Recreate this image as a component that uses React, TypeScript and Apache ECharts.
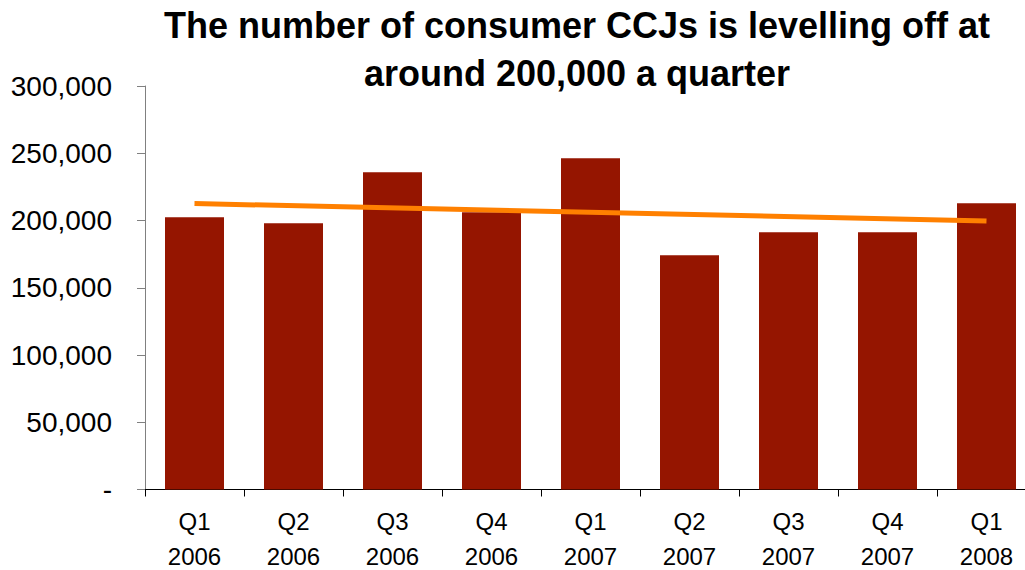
import React, { useEffect, useRef } from "react";
import * as echarts from "echarts";

const categories = ["Q1\n2006", "Q2\n2006", "Q3\n2006", "Q4\n2006", "Q1\n2007", "Q2\n2007", "Q3\n2007", "Q4\n2007", "Q1\n2008"];
const ccjs = [202400, 197950, 235850, 206100, 246250, 174150, 191250, 191250, 212800];
const trend = [212600, null, null, null, null, null, null, null, 199650];

export default function App() {
  const ref = useRef<HTMLDivElement>(null);
  useEffect(() => {
    const chart = echarts.init(ref.current!, null, { renderer: "svg" });
    chart.setOption({
      animation: false,
      title: {
        text: "The number of consumer CCJs is levelling off at\naround 200,000 a quarter",
        left: 572,
        top: -4,
        textAlign: "center",
        textStyle: {
          fontFamily: "Liberation Sans Narrow, Liberation Sans, Arial",
          fontWeight: "bold",
          fontSize: 36,
          lineHeight: 48,
          color: "#000",
        },
      },
      grid: { left: 145, top: 86, width: 891, height: 403.5, outerBoundsMode: "none", containLabel: false },
      xAxis: {
        type: "category",
        data: categories,
        axisLine: { lineStyle: { color: "#000", width: 1 } },
        axisTick: { show: true, length: 7, lineStyle: { color: "#000" } },
        axisLabel: {
          color: "#000",
          fontFamily: "Liberation Sans, Arial",
          fontSize: 24,
          lineHeight: 35,
          margin: 14,
        },
      },
      yAxis: {
        type: "value",
        min: 0,
        max: 300000,
        interval: 50000,
        axisLine: { show: true, lineStyle: { color: "#808080", width: 1 } },
        axisTick: { show: true, length: 8, lineStyle: { color: "#808080" } },
        splitLine: { show: false },
        axisLabel: {
          color: "#000",
          fontFamily: "Liberation Sans, Arial",
          fontSize: 28,
          margin: 33,
          formatter: (v: number) => (v === 0 ? "-" : v.toLocaleString("en-US")),
        },
      },
      series: [
        {
          type: "bar",
          data: ccjs,
          barWidth: 59,
          itemStyle: { color: "#951500" },
        },
        {
          type: "line",
          data: trend,
          connectNulls: true,
          symbol: "none",
          lineStyle: { color: "#FF8000", width: 5 },
          z: 3,
        },
      ],
    });
    return () => chart.dispose();
  }, []);
  return (
    <div
      ref={ref}
      style={{ position: "absolute", left: 0, top: 0, width: 1025, height: 570 }}
    />
  );
}
